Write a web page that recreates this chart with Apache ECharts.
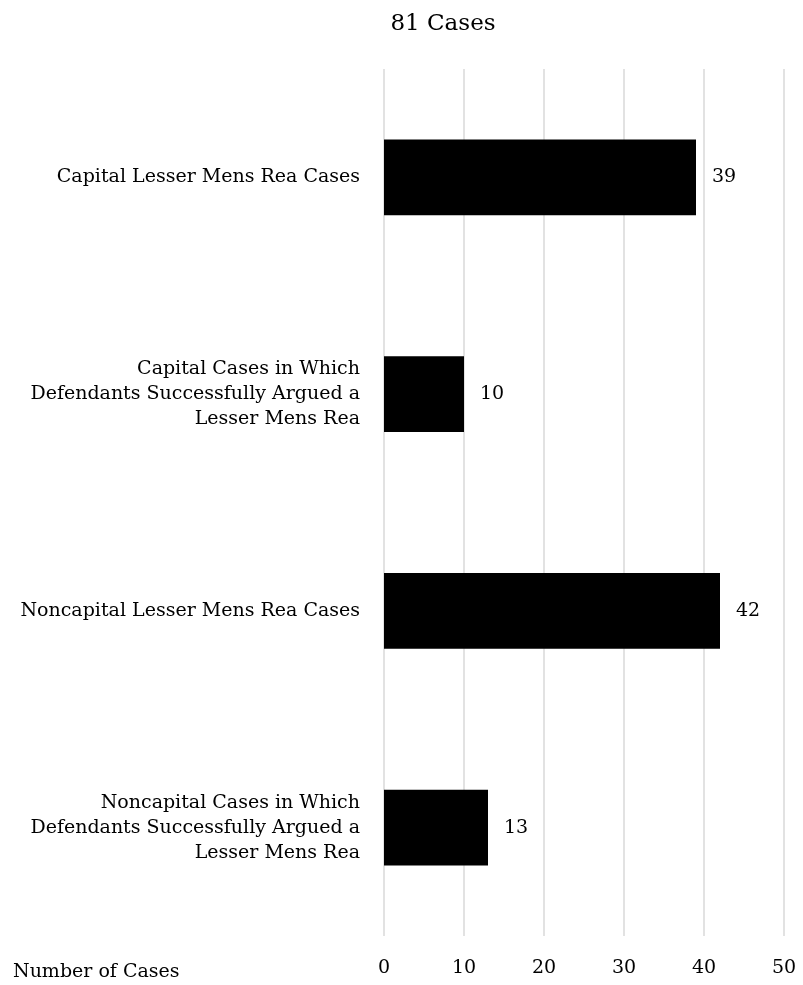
<!DOCTYPE html>
<html>
<head>
<meta charset="utf-8">
<script src="https://cdn.jsdelivr.net/npm/echarts@6/dist/echarts.min.js"></script>
<style>
  html, body { margin: 0; padding: 0; background: #fff; }
  #chart { width: 803px; height: 985px; }
</style>
</head>
<body>
<div id="chart"></div>
<script>
// categories top to bottom
const categories = [
  'Capital Lesser Mens Rea Cases',
  'Capital Cases in Which\nDefendants Successfully Argued a\nLesser Mens Rea',
  'Noncapital Lesser Mens Rea Cases',
  'Noncapital Cases in Which\nDefendants Successfully Argued a\nLesser Mens Rea'
];
const caseCounts = [39, 10, 42, 13];
const xTicks = [0, 10, 20, 30, 40, 50];

const fontFam = '"DejaVu Serif", "Liberation Serif", serif';

const myChart = echarts.init(document.getElementById('chart'));
const option = {
  backgroundColor: '#fff',
  title: [
    {
      text: '81 Cases',
      left: 438,
      top: 8,
      textAlign: 'center',
      textStyle: { fontFamily: fontFam, fontSize: 23, fontWeight: 'normal', color: '#000' }
    },
    {
      text: 'Number of Cases',
      left: 8,
      top: 958,
      textStyle: { fontFamily: fontFam, fontSize: 19, fontWeight: 'normal', color: '#000' }
    }
  ],
  grid: { left: 384, right: 19, top: 69, bottom: 49 },
  xAxis: {
    type: 'value',
    min: xTicks[0],
    max: xTicks[xTicks.length - 1],
    interval: 10,
    axisLine: { show: false },
    axisTick: { show: false },
    axisLabel: { fontFamily: fontFam, fontSize: 19, color: '#000', margin: 23 },
    splitLine: { lineStyle: { color: '#d9d9d9', width: 1.5 } }
  },
  yAxis: {
    type: 'category',
    inverse: true,
    data: categories,
    axisLine: { show: false },
    axisTick: { show: false },
    axisLabel: { fontFamily: fontFam, fontSize: 19, color: '#000', margin: 24, lineHeight: 25, align: 'right' }
  },
  series: [{
    type: 'bar',
    data: caseCounts,
    barWidth: '35%',
    itemStyle: { color: '#000' },
    label: {
      show: true,
      position: 'right',
      distance: 16,
      fontFamily: fontFam,
      fontSize: 19,
      color: '#000'
    }
  }]
};
myChart.setOption(option);
</script>
</body>
</html>
